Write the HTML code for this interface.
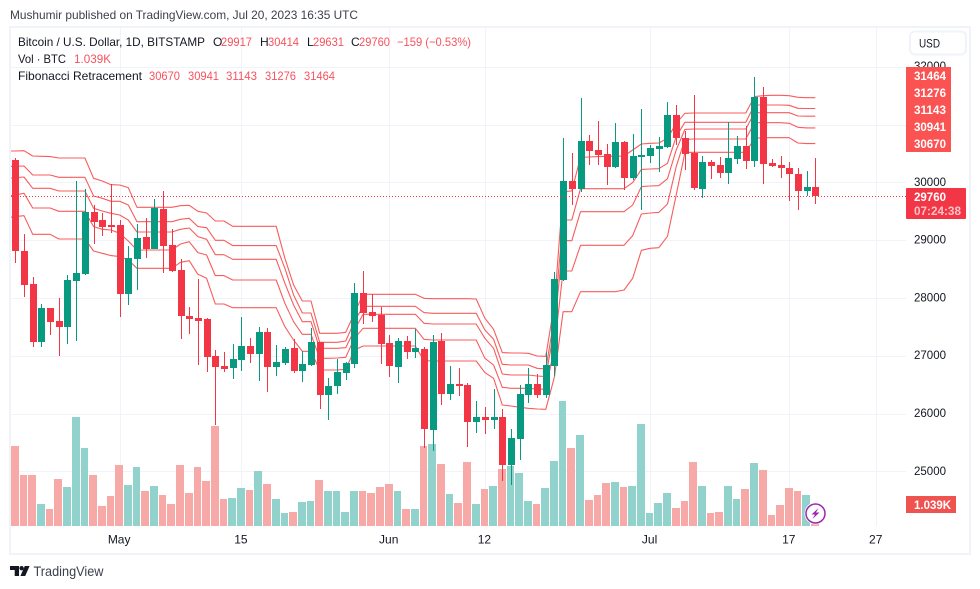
<!DOCTYPE html>
<html lang="en">
<head>
<meta charset="utf-8">
<title>BTC/USD chart</title>
<style>
html,body{margin:0;padding:0;background:#fff;width:980px;height:589px;overflow:hidden}
svg{display:block;font-family:"Liberation Sans",sans-serif}
text{white-space:pre}
</style>
</head>
<body>
<svg id="chart" xmlns="http://www.w3.org/2000/svg" width="980" height="589" viewBox="0 0 980 589">
  <rect x="0" y="0" width="980" height="589" fill="#ffffff"/>
  <text x="10" y="19" font-size="12" fill="#3c404b" textLength="348" lengthAdjust="spacingAndGlyphs">Mushumir published on TradingView.com, Jul 20, 2023 16:35 UTC</text>
  <rect x="10" y="27" width="960" height="527" fill="none" stroke="#f0f3fa" stroke-width="2"/>

  <defs><clipPath id="pane-clip"><rect x="11" y="28" width="895" height="498"/></clipPath></defs>
  <g id="grid"></g>
  <g id="volumes" clip-path="url(#pane-clip)"></g>
  <g id="fibs" clip-path="url(#pane-clip)"></g>
  <g id="candles" clip-path="url(#pane-clip)"></g>
  <g id="priceline"></g>
  <g id="price-axis"></g>
  <g id="time-axis"></g>
  <g id="fib-labels"></g>

  <g>
    <rect x="906" y="188" width="60" height="31" rx="1" fill="#f23645"/>
    <text x="914" y="201" font-size="12" font-weight="bold" fill="#ffffff" textLength="32" lengthAdjust="spacingAndGlyphs">29760</text>
    <text x="914" y="215" font-size="12" font-weight="bold" fill="#fbc3c8" textLength="47" lengthAdjust="spacingAndGlyphs">07:24:38</text>
  </g>
  <g>
    <rect x="906" y="496" width="50" height="17" fill="#ef5350"/>
    <text x="914" y="509" font-size="12" font-weight="bold" fill="#ffffff" textLength="37" lengthAdjust="spacingAndGlyphs">1.039K</text>
  </g>

  <g>
    <rect x="910" y="31.5" width="56" height="23" rx="5" fill="#ffffff" stroke="#f0f3fa" stroke-width="2"/>
    <text x="919" y="47.5" font-size="12" fill="#131722" textLength="21" lengthAdjust="spacingAndGlyphs">USD</text>
  </g>

  <g font-size="12" fill="#131722">
    <text x="18" y="46" textLength="187" lengthAdjust="spacingAndGlyphs">Bitcoin / U.S. Dollar, 1D, BITSTAMP</text>
    <text x="213" y="46">O</text>
    <text x="221" y="46" fill="#f7525f" textLength="31" lengthAdjust="spacingAndGlyphs">29917</text>
    <text x="260" y="46">H</text>
    <text x="268" y="46" fill="#f7525f" textLength="31" lengthAdjust="spacingAndGlyphs">30414</text>
    <text x="307" y="46">L</text>
    <text x="313" y="46" fill="#f7525f" textLength="31" lengthAdjust="spacingAndGlyphs">29631</text>
    <text x="351" y="46">C</text>
    <text x="359" y="46" fill="#f7525f" textLength="31" lengthAdjust="spacingAndGlyphs">29760</text>
    <text x="397" y="46" fill="#f7525f" textLength="74" lengthAdjust="spacingAndGlyphs">−159 (−0.53%)</text>
    <text x="18" y="63" textLength="48" lengthAdjust="spacingAndGlyphs">Vol · BTC</text>
    <text x="74" y="63" fill="#f7525f" textLength="37" lengthAdjust="spacingAndGlyphs">1.039K</text>
    <text x="18" y="80" textLength="124" lengthAdjust="spacingAndGlyphs">Fibonacci Retracement</text>
    <text x="149" y="80" fill="#f7525f" textLength="31" lengthAdjust="spacingAndGlyphs">30670</text>
    <text x="188" y="80" fill="#f7525f" textLength="31" lengthAdjust="spacingAndGlyphs">30941</text>
    <text x="226" y="80" fill="#f7525f" textLength="31" lengthAdjust="spacingAndGlyphs">31143</text>
    <text x="265" y="80" fill="#f7525f" textLength="31" lengthAdjust="spacingAndGlyphs">31276</text>
    <text x="304" y="80" fill="#f7525f" textLength="31" lengthAdjust="spacingAndGlyphs">31464</text>
  </g>

  <g>
    <circle cx="815.5" cy="513.5" r="9.5" fill="#ffffff" stroke="#ffffff" stroke-width="3"/>
    <circle cx="815.5" cy="513.5" r="9.5" fill="#ffffff" stroke="#9c27b0" stroke-width="1.5"/>
    <path d="M818.5 508 L811.5 514.5 L815 514.5 L812.5 519 L819.5 512.5 L816 512.5 Z" fill="#9c27b0"/>
  </g>

  <g>
    <path d="M10 566h9v10h-4.3v-6h-4.7z M29.6 566l-4.4 10h-4.8l4.4-10z" fill="#131722"/>
    <circle cx="21.6" cy="568.2" r="2.2" fill="#131722"/>
    <text x="33.5" y="576" font-size="14" fill="#3c404b" textLength="70" lengthAdjust="spacingAndGlyphs">TradingView</text>
  </g>
</svg>

<script>
/* Candle data: index 0 = 19 Apr 2023, one candle per day */
const firstDay = "2023-04-19";
const opens = [30386,28812,28241,27243,27825,27601,27502,28298,28414,29486,29348,29261,29261,28073,28679,29054,28852,29538,28915,28483,27687,27652,27635,26995,26822,26787,26932,27168,27035,27410,26810,26874,27133,26741,26839,27237,26326,26476,26701,26857,28085,27756,27704,27220,26805,27255,27064,27116,25715,27255,26338,26511,26493,25853,25940,25888,25940,25109,25559,26320,26511,26320,26822,28310,30023,29884,30715,30559,30490,30265,30697,30074,30438,30455,30576,30611,31164,30767,30507,29884,30351,30299,30161,30403,30628,30369,31476,30334,30299,30247,30144,29850,29917];
const highs = [30415,29100,28362,27895,27825,27998,28396,30017,29878,29607,29469,29965,29348,28898,29279,29383,29711,29850,29192,28673,27843,28327,27652,27099,27064,27203,27670,27306,27497,27479,27185,27151,27289,27082,27479,27237,26620,26943,26891,28252,28466,28068,27843,27358,27307,27341,27462,27151,27358,27393,26822,26787,26528,26217,26113,26424,26078,25732,26493,26787,26684,27064,28448,30767,30507,31459,30818,31061,30663,31026,30715,30836,31268,30645,30784,31389,31337,30888,31510,30455,30386,30438,31043,30801,30974,31822,31649,30403,30455,30351,30247,30196,30414];
const lows = [28610,28022,27156,27156,27364,27001,27208,27260,28396,28938,29077,29129,27675,27883,28143,28696,28840,28437,28454,27295,27381,26845,26724,25801,26724,26603,26741,26880,26568,26378,26655,26845,26707,26551,26828,26084,25888,26338,26580,26787,27549,27583,26857,26632,26528,26943,26961,25403,25352,26147,26234,26303,25421,25663,25646,25732,24832,24763,25196,26182,26268,26268,26649,28293,29607,29838,30299,30299,29953,30247,29867,30040,29521,30334,30178,30593,30645,30213,29867,29728,30057,30074,29971,30317,30230,30265,29971,30265,30074,29677,29521,29763,29631];
const closes = [28817,28229,27243,27825,27589,27502,28310,28431,29486,29319,29227,29227,28073,28690,29036,28852,29556,28904,28471,27693,27635,27601,26983,26810,26770,26943,27168,27035,27410,26810,26891,27116,26741,26857,27237,26326,26476,26718,26874,28085,27739,27687,27203,26822,27255,27064,27134,25732,27237,26338,26511,26476,25853,25940,25888,25940,25109,25576,26338,26511,26320,26839,28327,30023,29884,30715,30542,30472,30265,30697,30074,30455,30472,30594,30628,31164,30767,30490,29901,30351,30282,30161,30421,30628,30369,31476,30317,30282,30247,30144,29850,29919,29760];
/* Volume in thousands of BTC */
const volumes = [40,25.5,25.5,11,8.5,23.5,19.5,54.5,39,25.5,10,15,30.5,20.5,29.5,17.5,20,15.5,11,30.5,16.5,29.5,22.5,50,13.5,14,19,18,27.5,21,13.5,6.5,7,12,12.5,23,17.5,17.5,7,17.5,17.5,16.5,19.5,21,17.5,8.5,8.5,40,41,31,16,11.5,32,11,18.5,20,28.5,30,26.5,12.5,11,19,32.5,62.5,39,45.5,13,15.5,21.5,22,19.5,20,51,6.5,11.5,16.5,9,12.5,32,20,6.5,7,20,13.5,18.5,31.5,28,5.5,10.5,19,17.5,15.5,1.039];
/* Fibonacci level series; first value belongs to the day before index 0 */
const fibLevel1 = [29388,29406,29423,29100,29100,29100,29019,29019,29019,29019,28812,28771,28731,28714,28656,28512,28512,28512,28512,28512,28616,28644,28408,28339,27895,27895,27831,27831,27831,27831,27831,27831,27502,27272,27076,27076,26753,26753,26753,26764,27099,27168,27168,27168,27168,27168,27168,27168,26914,26909,26909,26909,26909,26909,26909,26707,26609,26147,26130,26107,26090,26078,26072,26638,27762,27762,28108,28108,28108,28108,28108,28137,28339,28823,28858,28869,29065,29780,30513,30519,30519,30519,30519,30519,30519,30519,30761,30772,30772,30772,30772,30680,30670,30670];
const fibLevel2 = [29763,29780,29809,29556,29556,29556,29498,29498,29498,29498,29233,29186,29175,29117,28985,28829,28829,28829,28829,28829,28933,28973,28783,28742,28385,28385,28310,28310,28310,28310,28310,28310,27906,27589,27370,27370,26955,26955,26961,26972,27301,27474,27474,27474,27474,27474,27474,27474,27283,27272,27272,27272,27272,27272,27272,26955,26839,26453,26436,26436,26436,26424,26418,27151,28465,28465,28910,28910,28910,28910,28910,28910,29077,29452,29469,29480,29625,30271,30743,30749,30749,30749,30749,30749,30749,30749,31032,31032,31032,31032,31020,30951,30941,30941];
const fibLevel3 = [30069,30080,30092,29896,29896,29896,29850,29850,29850,29850,29550,29504,29463,29434,29348,29140,29140,29140,29140,29140,29186,29210,29060,29013,28748,28748,28667,28667,28667,28667,28667,28667,28252,27877,27589,27589,27128,27128,27128,27139,27445,27716,27716,27716,27716,27716,27716,27716,27560,27549,27549,27549,27549,27549,27549,27301,27128,26684,26666,26666,26666,26649,26638,27479,28990,28990,29492,29492,29492,29492,29492,29492,29607,29925,29936,29942,30063,30559,30916,30922,30922,30922,30922,30922,30922,30922,31205,31205,31205,31205,31205,31147,31143,31143];
const fibLevel4 = [30271,30276,30282,30126,30126,30126,30086,30086,30086,30086,29763,29723,29671,29671,29607,29319,29319,29319,29319,29319,29359,29377,29233,29215,28996,28996,28904,28904,28904,28904,28904,28904,28512,28050,27739,27739,27231,27231,27232,27255,27589,27854,27854,27854,27854,27854,27854,27854,27745,27733,27733,27733,27733,27733,27733,27445,27283,26851,26839,26839,26839,26782,26770,27670,29348,29348,29890,29890,29890,29890,29890,29890,29994,30224,30230,30236,30328,30790,31038,31038,31038,31038,31038,31038,31038,31038,31337,31337,31337,31337,31332,31280,31276,31276];
const fibLevel5 = [30542,30542,30547,30455,30449,30444,30421,30421,30421,30421,30069,30023,29959,29953,29907,29567,29567,29567,29567,29567,29596,29602,29498,29469,29331,29331,29238,29238,29238,29238,29238,29238,28685,28223,27946,27946,27387,27387,27387,27405,27733,28062,28062,28062,28062,28062,28062,28062,27993,27987,27987,27987,27987,27987,27981,27647,27456,27053,27047,27047,27041,26995,26989,27912,29838,29850,30432,30438,30444,30449,30449,30455,30559,30663,30674,30680,30761,31020,31193,31199,31199,31199,31199,31199,31199,31199,31482,31499,31505,31505,31499,31470,31464,31464];
const fibLabelValues = [31464,31276,31143,30941,30670];
const lastPrice = 29760;
/* Axis ticks */
const priceTicks = [32000,31000,30000,29000,28000,27000,26000,25000];
const priceTickLabels = ["32000","","30000","29000","28000","27000","26000","25000"];
const timeTickIndexes = [12,26,43,54,73,89,99];
const timeTickLabels = ["May","15","Jun","12","Jul","17","27"];

const NS = "http://www.w3.org/2000/svg";
const PANE_LEFT = 11, PANE_RIGHT = 906, PANE_TOP = 28, PANE_BOTTOM = 526;

function xOf(i){ return 15.3 + i * 8.696; }
function yOf(p){ return 182.3 + (30000 - p) * 0.0578; }
function yVol(v){ return PANE_BOTTOM - v * 2; }
function make(tag){ return document.createElementNS(NS, tag); }
function rect(x, y, w, h, fill){
  const r = make("rect");
  r.setAttribute("x", x); r.setAttribute("y", y);
  r.setAttribute("width", w); r.setAttribute("height", h);
  r.setAttribute("fill", fill);
  r.setAttribute("shape-rendering", "crispEdges");
  return r;
}

/* Grid */
const gridG = document.getElementById("grid");
priceTicks.forEach(function(p){
  const y = Math.round(yOf(p));
  const g = rect(PANE_LEFT, y, PANE_RIGHT - PANE_LEFT, 1, "#f0f3fa");
  
  
  gridG.appendChild(g);
});
timeTickIndexes.forEach(function(i){
  const x = Math.round(xOf(i));
  const g = rect(x, PANE_TOP, 1, PANE_BOTTOM - PANE_TOP, "#f0f3fa");
  
  
  gridG.appendChild(g);
});

/* Volume bars */
const volG = document.getElementById("volumes");
volumes.forEach(function(v, i){
  const c = xOf(i);
  const left = Math.round(c - 4.35);
  const right = Math.round(c + 4.35) - 1;
  const top = Math.round(yVol(v));
  const up = closes[i] >= opens[i];
  const b = rect(left, top, right - left, Math.max(PANE_BOTTOM - top, 1), up ? "#92d2cc" : "#f7a9a7");
  
  
  volG.appendChild(b);
});

/* Fibonacci lines */
const fibG = document.getElementById("fibs");
[fibLevel1, fibLevel2, fibLevel3, fibLevel4, fibLevel5].forEach(function(series, n){
  const pts = series.map(function(p, k){ return xOf(k - 1).toFixed(1) + "," + yOf(p).toFixed(1); }).join(" ");
  const l = make("polyline");
  l.setAttribute("points", pts);
  l.setAttribute("fill", "none");
  l.setAttribute("stroke", "#f85c5c");
  l.setAttribute("stroke-width", "1.1");
  l.setAttribute("stroke-linejoin", "round");
  
  
  fibG.appendChild(l);
});

/* Candles */
const candleG = document.getElementById("candles");
opens.forEach(function(o, i){
  const c = closes[i];
  const up = c >= o;
  const color = up ? "#089981" : "#f23645";
  const cx = xOf(i);
  const wickX = Math.round(cx);
  const hi = Math.round(yOf(highs[i]));
  const lo = Math.round(yOf(lows[i]));
  const group = make("g");
  
  
  const wick = rect(wickX, hi, 1, Math.max(lo - hi, 1), color);
  
  
  group.appendChild(wick);
  const top = Math.round(yOf(Math.max(o, c)));
  const bottom = Math.round(yOf(Math.min(o, c)));
  const body = rect(wickX - 3, top, 7, Math.max(bottom - top, 2), color);
  
  
  group.appendChild(body);
  candleG.appendChild(group);
});

/* Last price dotted line */
const dotted = make("line");
dotted.setAttribute("x1", PANE_LEFT);
dotted.setAttribute("x2", PANE_RIGHT);
dotted.setAttribute("y1", Math.round(yOf(lastPrice)) + 0.5);
dotted.setAttribute("y2", Math.round(yOf(lastPrice)) + 0.5);
dotted.setAttribute("stroke", "#f23645");
dotted.setAttribute("stroke-width", "1");
dotted.setAttribute("stroke-dasharray", "1 2");


document.getElementById("priceline").appendChild(dotted);

/* Price axis labels */
const priceAxis = document.getElementById("price-axis");
priceTicks.forEach(function(p, i){
  if(!priceTickLabels[i]) return;
  const t = make("text");
  t.textContent = priceTickLabels[i];
  t.setAttribute("x", 914);
  t.setAttribute("y", yOf(p) + 3.5);
  t.setAttribute("font-size", "12");
  t.setAttribute("fill", "#131722");
  t.setAttribute("textLength", "32");
  t.setAttribute("lengthAdjust", "spacingAndGlyphs");
  
  
  priceAxis.appendChild(t);
});

/* Time axis labels */
const timeAxis = document.getElementById("time-axis");
timeTickIndexes.forEach(function(i, n){
  const t = make("text");
  t.textContent = timeTickLabels[n];
  t.setAttribute("x", xOf(i) - 0.5);
  t.setAttribute("y", 543.5);
  t.setAttribute("font-size", "12");
  t.setAttribute("text-anchor", "middle");
  t.setAttribute("fill", "#131722");
  
  
  timeAxis.appendChild(t);
});

/* Fibonacci price labels */
const fibLabels = document.getElementById("fib-labels");
fibLabelValues.forEach(function(v, n){
  const b = rect(906, 67 + n * 17, 45, 17, "#fb5252");
  
  
  fibLabels.appendChild(b);
  const t = make("text");
  t.textContent = String(v);
  t.setAttribute("x", 914);
  t.setAttribute("y", 80 + n * 17);
  t.setAttribute("font-size", "12");
  t.setAttribute("font-weight", "bold");
  t.setAttribute("fill", "#ffffff");
  t.setAttribute("textLength", "32");
  t.setAttribute("lengthAdjust", "spacingAndGlyphs");
  
  
  fibLabels.appendChild(t);
});
</script>
</body>
</html>
